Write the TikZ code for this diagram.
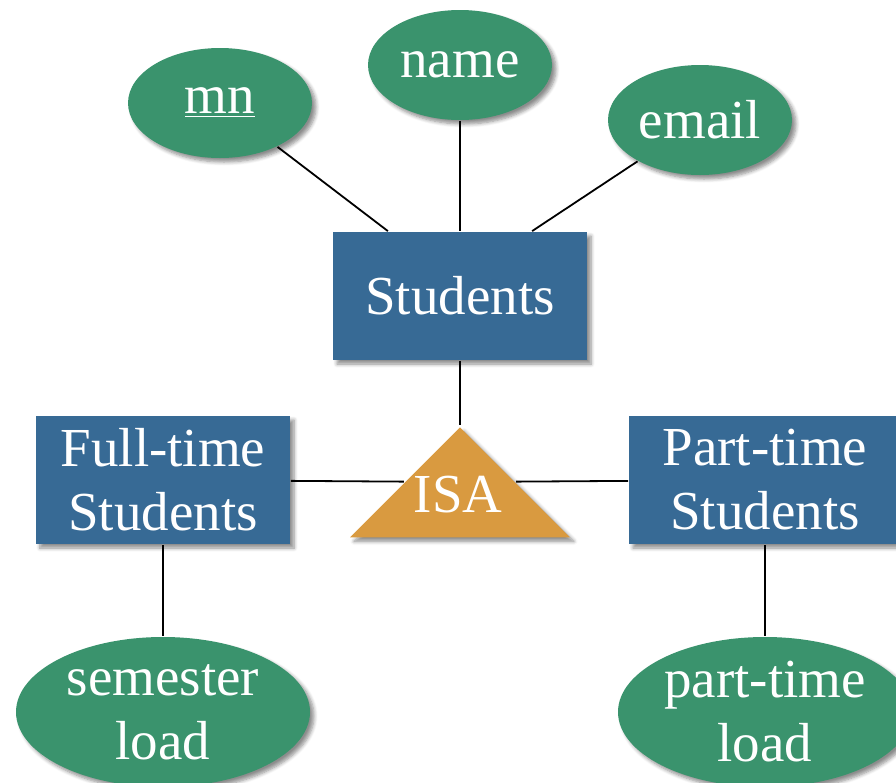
\documentclass[tikz,border=0pt]{standalone}
\usepackage{fontspec}
\setmainfont{Liberation Serif}
\usetikzlibrary{shapes.geometric,shadows.blur}
\definecolor{entblue}{HTML}{376A95}
\definecolor{attrgreen}{HTML}{3A936D}
\definecolor{isaorange}{HTML}{D99A40}
\begin{document}
\begin{tikzpicture}[-,draw=black,x=0.5pt,y=-0.5pt,line width=0.9pt]
    \tikzstyle{softshadow}=[blur shadow={shadow xshift=2pt,shadow yshift=-2pt,shadow blur steps=6,shadow opacity=45}]
    \tikzstyle{entity}=[rectangle,fill=entblue,text=white,minimum width=127pt,minimum height=64pt,align=center,font=\fontsize{27.5}{32}\selectfont,softshadow]
    \tikzstyle{attribute}=[ellipse,fill=attrgreen,text=white,inner sep=0pt,align=center,font=\fontsize{27.5}{32}\selectfont,softshadow]
    \tikzstyle{isa}=[isosceles triangle,shape border rotate=90,isosceles triangle stretches,minimum width=110pt,minimum height=55pt,inner sep=0pt,fill=isaorange,softshadow]

    \useasboundingbox (0,0) rectangle (896,783);

    % Attributes of Students
    \node[attribute,minimum width=92pt,minimum height=55pt] (mn) at (220,103) {\underline{mn}};
    \node[attribute,minimum width=92pt,minimum height=55pt] (name) at (460,65) {name};
    \node[attribute,minimum width=92pt,minimum height=55pt] (email) at (700,120) {email};

    % Entities
    \node[entity] (students) at (460,296) {Students};
    \node[entity] (fulltime) at (163,480) {Full-time\\Students};
    \node[entity,minimum width=136pt] (parttime) at (765,480) {Part-time\\Students};

    % ISA
    \node[isa,anchor=apex] (isa) at (460,425) {};
    \node[text=white,font=\fontsize{27.5}{32}\selectfont] (isalabel) at (458,495) {ISA};

    % Attributes of subclasses
    \node[attribute,minimum width=147pt,minimum height=75pt] (semload) at (163,712) {semester\\load};
    \node[attribute,minimum width=147pt,minimum height=75pt] (ptload) at (765,712) {part-time\\load};

    % Connect attributes to entities
    \draw (mn) -- (students.138);
    \draw (name) -- (students);
    \draw (email) -- (students.42);
    \draw (fulltime) -- (semload);
    \draw (parttime) -- (ptload);

    % Connect ISA
    \draw (students) -- (isa.apex);
    \draw (fulltime) -- (isa.left side);
    \draw (parttime) -- (isa.right side);

\end{tikzpicture}
\end{document}
